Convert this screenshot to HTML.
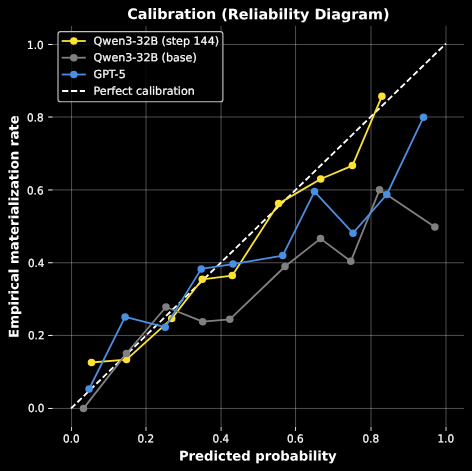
<!DOCTYPE html>
<html lang="en"><head><meta charset="utf-8"><title>Calibration (Reliability Diagram)</title>
<style>html,body{margin:0;padding:0;background:#000;}body{width:472px;height:471px;overflow:hidden;}svg{display:block;}text{font-family:"DejaVu Sans","Liberation Sans",sans-serif;fill:#fff;}.b{font-weight:bold;}.s{font-size:11.05px;stroke:#fff;stroke-width:0.22px;}</style></head><body>
<svg width="472" height="471" viewBox="0 0 472 471">
<rect width="472" height="471" fill="#000"/>
<g stroke="#fff" stroke-opacity="0.31" stroke-width="1" fill="none">
<line x1="71.55" y1="25.90" x2="71.55" y2="426.30"/>
<line x1="52.80" y1="408.45" x2="464.10" y2="408.45"/>
<line x1="146.00" y1="25.90" x2="146.00" y2="426.30"/>
<line x1="52.80" y1="335.45" x2="464.10" y2="335.45"/>
<line x1="221.10" y1="25.90" x2="221.10" y2="426.30"/>
<line x1="52.80" y1="262.75" x2="464.10" y2="262.75"/>
<line x1="295.55" y1="25.90" x2="295.55" y2="426.30"/>
<line x1="52.80" y1="189.95" x2="464.10" y2="189.95"/>
<line x1="371.00" y1="25.90" x2="371.00" y2="426.30"/>
<line x1="52.80" y1="117.00" x2="464.10" y2="117.00"/>
<line x1="446.00" y1="25.90" x2="446.00" y2="426.30"/>
<line x1="52.80" y1="44.45" x2="464.10" y2="44.45"/>
</g>
<g stroke="#fff" stroke-width="0.98" fill="none">
<line x1="71.55" y1="426.80" x2="71.55" y2="430.90" stroke-width="0.86"/>
<line x1="48.15" y1="408.45" x2="52.65" y2="408.45"/>
<line x1="146.00" y1="426.80" x2="146.00" y2="430.90" stroke-width="0.86"/>
<line x1="48.15" y1="335.45" x2="52.65" y2="335.45"/>
<line x1="221.10" y1="426.80" x2="221.10" y2="430.90" stroke-width="0.86"/>
<line x1="48.15" y1="262.75" x2="52.65" y2="262.75"/>
<line x1="295.55" y1="426.80" x2="295.55" y2="430.90" stroke-width="0.86"/>
<line x1="48.15" y1="189.95" x2="52.65" y2="189.95"/>
<line x1="371.00" y1="426.80" x2="371.00" y2="430.90" stroke-width="0.86"/>
<line x1="48.15" y1="117.00" x2="52.65" y2="117.00"/>
<line x1="446.00" y1="426.80" x2="446.00" y2="430.90" stroke-width="0.86"/>
<line x1="48.15" y1="44.45" x2="52.65" y2="44.45"/>
</g>
<g class="s">
<text transform="translate(71.30 442.55) rotate(0.03) scale(0.945 1)" text-anchor="middle">0.0</text>
<text transform="translate(44.50 412.00) rotate(0.03) scale(0.945 1)" text-anchor="end">0.0</text>
<text transform="translate(145.75 442.55) rotate(0.03) scale(0.945 1)" text-anchor="middle">0.2</text>
<text transform="translate(44.60 339.30) rotate(0.03) scale(0.945 1)" text-anchor="end">0.2</text>
<text transform="translate(220.85 442.55) rotate(0.03) scale(0.945 1)" text-anchor="middle">0.4</text>
<text transform="translate(44.50 267.00) rotate(0.03) scale(0.945 1)" text-anchor="end">0.4</text>
<text transform="translate(295.30 442.55) rotate(0.03) scale(0.945 1)" text-anchor="middle">0.6</text>
<text transform="translate(43.60 194.40) rotate(0.03) scale(0.945 1)" text-anchor="end">0.6</text>
<text transform="translate(370.75 442.55) rotate(0.03) scale(0.945 1)" text-anchor="middle">0.8</text>
<text transform="translate(43.70 121.50) rotate(0.03) scale(0.945 1)" text-anchor="end">0.8</text>
<text transform="translate(445.75 442.55) rotate(0.03) scale(0.945 1)" text-anchor="middle">1.0</text>
<text transform="translate(43.70 49.00) rotate(0.03) scale(0.945 1)" text-anchor="end">1.0</text>
</g>
<line x1="71.05" y1="408.44" x2="446.00" y2="43.55" stroke="#fff" stroke-width="1.85" stroke-dasharray="6.0 2.842"/>
<g fill="#fde233" stroke="none">
<polyline points="91.50,362.50 126.50,359.60 171.70,318.60 202.30,279.30 232.30,275.60 278.60,203.60 320.70,179.00 352.40,165.60 381.90,96.30" fill="none" stroke="#fde233" stroke-width="1.8" stroke-linejoin="round" stroke-linecap="square"/>
<circle cx="91.50" cy="362.50" r="3.76"/>
<circle cx="126.50" cy="359.60" r="3.76"/>
<circle cx="171.70" cy="318.60" r="3.76"/>
<circle cx="202.30" cy="279.30" r="3.76"/>
<circle cx="232.30" cy="275.60" r="3.76"/>
<circle cx="278.60" cy="203.60" r="3.76"/>
<circle cx="320.70" cy="179.00" r="3.76"/>
<circle cx="352.40" cy="165.60" r="3.76"/>
<circle cx="381.90" cy="96.30" r="3.76"/>
</g>
<g fill="#808080" stroke="none">
<polyline points="83.50,408.40 126.45,353.50 166.00,307.00 202.70,321.65 229.80,319.30 285.00,266.50 320.50,238.60 350.80,261.30 379.50,189.80 434.90,226.95" fill="none" stroke="#808080" stroke-width="1.8" stroke-linejoin="round" stroke-linecap="square"/>
<circle cx="83.50" cy="408.40" r="3.76"/>
<circle cx="126.45" cy="353.50" r="3.76"/>
<circle cx="166.00" cy="307.00" r="3.76"/>
<circle cx="202.70" cy="321.65" r="3.76"/>
<circle cx="229.80" cy="319.30" r="3.76"/>
<circle cx="285.00" cy="266.50" r="3.76"/>
<circle cx="320.50" cy="238.60" r="3.76"/>
<circle cx="350.80" cy="261.30" r="3.76"/>
<circle cx="379.50" cy="189.80" r="3.76"/>
<circle cx="434.90" cy="226.95" r="3.76"/>
</g>
<g fill="#4a90e2" stroke="none">
<polyline points="89.10,389.00 125.10,316.90 165.20,327.20 201.25,268.90 233.00,264.10 282.70,255.60 314.50,191.60 353.00,233.20 386.80,194.50 423.50,117.20" fill="none" stroke="#4a90e2" stroke-width="1.8" stroke-linejoin="round" stroke-linecap="square"/>
<circle cx="89.10" cy="389.00" r="3.76"/>
<circle cx="125.10" cy="316.90" r="3.76"/>
<circle cx="165.20" cy="327.20" r="3.76"/>
<circle cx="201.25" cy="268.90" r="3.76"/>
<circle cx="233.00" cy="264.10" r="3.76"/>
<circle cx="282.70" cy="255.60" r="3.76"/>
<circle cx="314.50" cy="191.60" r="3.76"/>
<circle cx="353.00" cy="233.20" r="3.76"/>
<circle cx="386.80" cy="194.50" r="3.76"/>
<circle cx="423.50" cy="117.20" r="3.76"/>
</g>
<rect x="58" y="31.55" width="164.9" height="70.2" rx="2.6" ry="2.6" fill="#000" fill-opacity="0.8" stroke="#ccc" stroke-opacity="0.95" stroke-width="1.15"/>
<line x1="62.6" y1="41.00" x2="84.9" y2="41.00" stroke="#fde233" stroke-width="1.8" stroke-linecap="square"/>
<circle cx="73.8" cy="41.00" r="3.76" fill="#fde233"/>
<text class="s" style="font-size:11.11px" transform="translate(93.55 44.65) rotate(0.03)">Qwen3-32B (step 144)</text>
<line x1="62.6" y1="57.70" x2="84.9" y2="57.70" stroke="#808080" stroke-width="1.8" stroke-linecap="square"/>
<circle cx="73.8" cy="57.70" r="3.76" fill="#808080"/>
<text class="s" style="font-size:11.11px" transform="translate(93.55 61.30) rotate(0.03)">Qwen3-32B (base)</text>
<line x1="62.6" y1="74.50" x2="84.9" y2="74.50" stroke="#4a90e2" stroke-width="1.8" stroke-linecap="square"/>
<circle cx="73.8" cy="74.50" r="3.76" fill="#4a90e2"/>
<text class="s" style="font-size:11.11px" transform="translate(93.55 78.00) rotate(0.03)">GPT-5</text>
<line x1="62.1" y1="91" x2="85.0" y2="91" stroke="#fff" stroke-width="1.85" stroke-dasharray="6.2 2.69"/>
<text class="s" style="font-size:11.11px" transform="translate(93.55 94.65) rotate(0.03)">Perfect calibration</text>
<text class="b" transform="translate(258.35 19.15) rotate(0.03)" text-anchor="middle" font-size="14.37">Calibration (Reliability Diagram)</text>
<text class="b" transform="translate(257.8 460.5) rotate(0.03)" text-anchor="middle" font-size="13.22">Predicted probability</text>
<text class="b" transform="translate(18.55 226.6) rotate(-89.97)" text-anchor="middle" font-size="13.26">Empirical materialization rate</text>
</svg></body></html>
